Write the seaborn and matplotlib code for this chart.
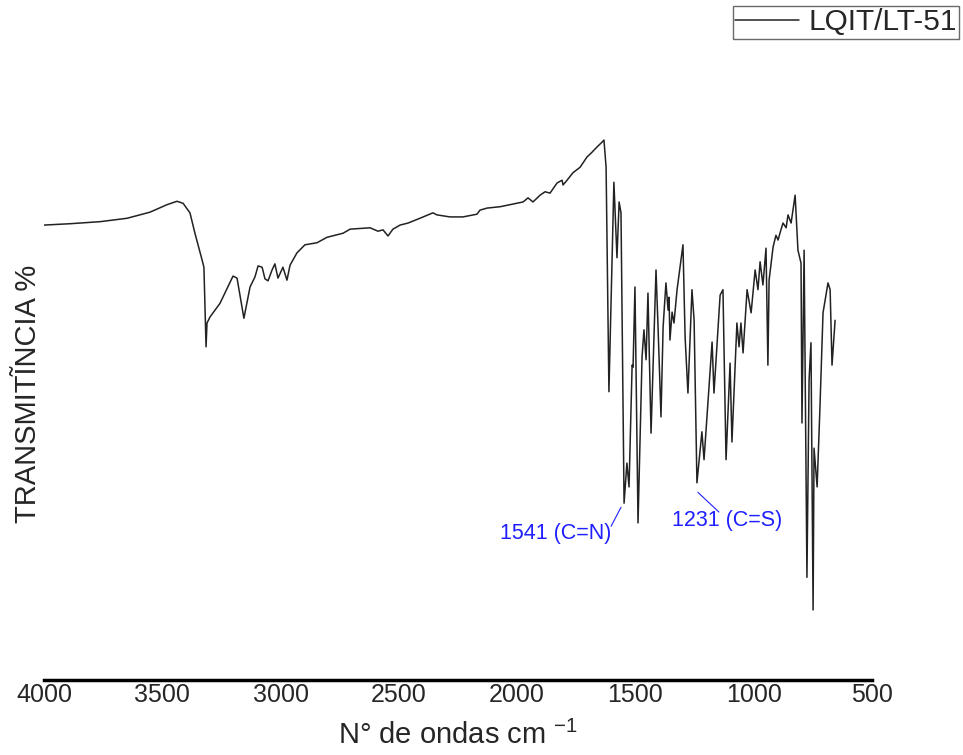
import matplotlib
matplotlib.use("Agg")
import matplotlib.pyplot as plt
import seaborn as sns
import pandas as pd
from matplotlib.lines import Line2D

# ---- data (wavenumber cm-1, transmittance %) ----
wavenumber = [4000, 3890, 3763, 3649, 3552, 3480, 3438, 3412, 3383, 3362, 3345, 3332, 3324,
              3315, 3311, 3298, 3256, 3201, 3184, 3155, 3129, 3108, 3095, 3078, 3066, 3053,
              3036, 3024, 3011, 2990, 2973, 2960, 2931, 2897, 2846, 2804, 2736, 2706, 2622,
              2588, 2567, 2546, 2525, 2495, 2461, 2411, 2356, 2339, 2284, 2229, 2170, 2157,
              2127, 2072, 2017, 1975, 1954, 1933, 1903, 1882, 1861, 1831, 1810, 1806, 1789,
              1764, 1734, 1705, 1684, 1662, 1641, 1633, 1624, 1612, 1591, 1578, 1569, 1561,
              1548, 1536, 1527, 1514, 1510, 1502, 1489, 1472, 1464, 1455, 1447, 1434, 1413,
              1404, 1392, 1383, 1371, 1362, 1358, 1354, 1345, 1337, 1324, 1299, 1290, 1278,
              1261, 1252, 1240, 1219, 1210, 1176, 1168, 1142, 1130, 1117, 1100, 1092, 1071,
              1062, 1054, 1045, 1028, 1011, 994, 982, 973, 961, 948, 940, 935, 918, 906, 897,
              885, 876, 863, 855, 842, 825, 813, 800, 796, 787, 775, 766, 758, 749, 745, 732,
              720, 707, 686, 677, 669, 656]
transmittance = [66.9, 67.1, 67.4, 67.9, 68.8, 69.9, 70.4, 70.1, 68.7, 65.7, 63.5, 61.8, 60.7,
                 49.0, 52.5, 53.4, 55.4, 59.4, 59.1, 53.2, 57.8, 59.3, 60.9, 60.7, 59.0, 58.7,
                 60.3, 61.2, 59.1, 60.7, 58.8, 61.0, 62.8, 64.0, 64.3, 65.1, 65.7, 66.3, 66.5,
                 66.0, 66.2, 65.3, 66.3, 66.9, 67.2, 67.9, 68.7, 68.4, 68.1, 68.1, 68.5, 69.1,
                 69.4, 69.6, 70.0, 70.3, 70.9, 70.3, 71.3, 71.8, 71.6, 73.1, 73.5, 72.8, 73.5,
                 74.6, 75.4, 76.9, 77.6, 78.4, 79.1, 79.4, 75.4, 42.4, 73.2, 62.1, 70.3, 68.7,
                 26.0, 31.9, 28.4, 46.3, 46.0, 57.8, 23.1, 47.5, 51.5, 47.1, 56.9, 36.3, 60.3,
                 51.5, 38.7, 51.9, 58.4, 54.4, 56.3, 50.0, 54.1, 52.5, 57.4, 64.0, 50.4, 42.2,
                 57.4, 52.9, 29.0, 36.5, 32.4, 49.7, 42.2, 56.6, 57.4, 32.4, 46.6, 35.0, 52.5,
                 49.0, 52.5, 48.1, 57.4, 54.0, 60.3, 57.4, 61.5, 58.1, 63.5, 46.3, 58.8, 63.7,
                 65.4, 64.7, 66.2, 67.2, 66.5, 68.4, 67.2, 71.3, 63.2, 61.3, 37.8, 63.2, 15.1,
                 44.1, 49.6, 10.3, 34.1, 28.4, 40.1, 54.0, 58.4, 57.4, 46.3, 52.9]
x_ticks = [4000, 3500, 3000, 2500, 2000, 1500, 1000, 500]
series_name = "LQIT/LT-51"
annotations = ["1541 (C=N)", "1231 (C=S)"]

df = pd.DataFrame({"wn": wavenumber, "T": transmittance})

sns.set_theme(style="white")
plt.rcParams["font.family"] = ["Liberation Sans", "DejaVu Sans"]
plt.rcParams["mathtext.fontset"] = "custom"
plt.rcParams["mathtext.rm"] = "Liberation Sans"
plt.rcParams["mathtext.it"] = "Liberation Sans"

fig = plt.figure(figsize=(9.63, 7.55), dpi=100)
ax = fig.add_axes([44 / 963, 75 / 755, 828 / 963, 680 / 755])

line_color = "#222222"
sns.lineplot(data=df, x="wn", y="T", ax=ax, color=line_color, linewidth=1.1,
             estimator=None, sort=False, legend=False)

ax.set_xlim(4000, 500)
ax.set_ylim(0, 100)
ax.set_xticks(x_ticks)
ax.set_xticklabels([str(t) for t in x_ticks], fontsize=18)
ax.set_yticks([])
ax.tick_params(axis="x", length=0, pad=2)
for s in ["top", "right", "left"]:
    ax.spines[s].set_visible(False)
ax.spines["bottom"].set_linewidth(2.5)
ax.spines["bottom"].set_color("black")
ax.patch.set_alpha(0)

ax.set_xlabel(r"N° de ondas cm $^{\mathregular{-1}}$", fontsize=21, labelpad=10)
ylab = ax.set_ylabel("TRANSMITĨNCIA %", fontsize=21)
ylab.set_va("center")
ax.yaxis.set_label_coords((28 - 44) / 828, (680 - 394) / 680)

# annotations
blue = "#1f1fff"
ax.text(1836, 21.6, annotations[0], color=blue, fontsize=15.5, ha="center", va="center")
ax.plot([1603, 1561], [22.6, 25.4], color=blue, lw=0.8)
ax.text(1113, 23.4, annotations[1], color=blue, fontsize=15.5, ha="center", va="center")
ax.plot([1236, 1147], [27.6, 24.7], color=blue, lw=0.8)

# legend
h = Line2D([], [], color=line_color, lw=1.1)
leg = fig.legend([h], [series_name], loc="upper right",
                 bbox_to_anchor=(959 / 963, 1 - 6 / 755), fontsize=21.5,
                 frameon=True, fancybox=False, borderpad=0.08, handlelength=2.15,
                 handletextpad=0.3, borderaxespad=0)
leg.get_frame().set_edgecolor("#444444")
leg.get_frame().set_linewidth(1.0)

fig.savefig("out.png", dpi=100)
